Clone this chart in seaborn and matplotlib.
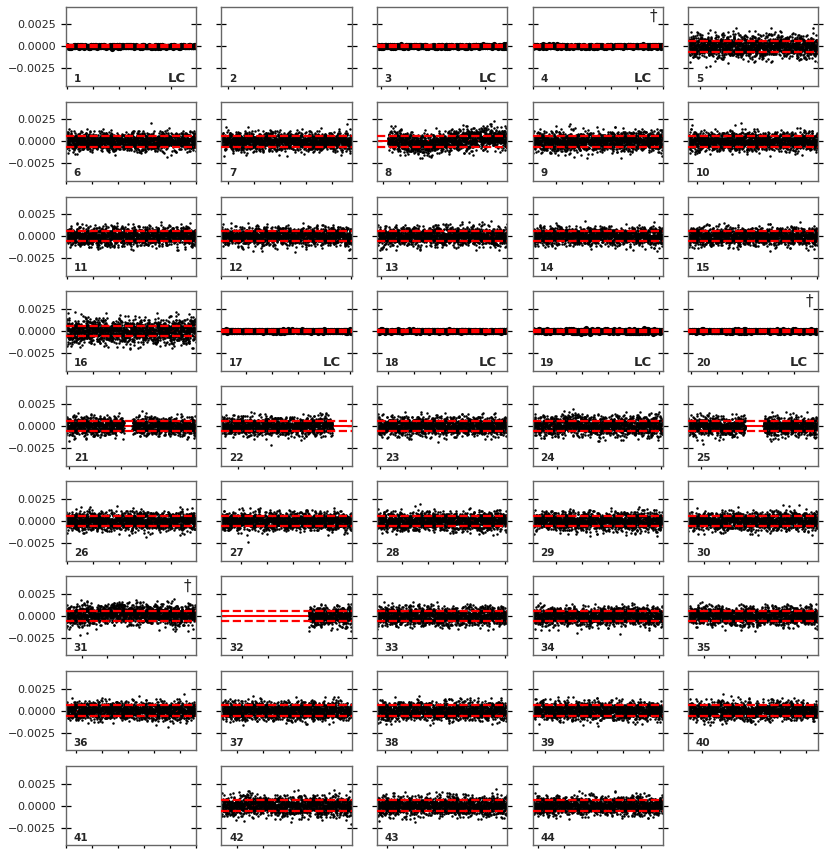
import numpy as np
import pandas as pd
import matplotlib
matplotlib.use("Agg")
import matplotlib.pyplot as plt
import seaborn as sns
from matplotlib.ticker import MultipleLocator

# panel numbering and flags
panel_ids = list(range(1, 45))
lc_panels = [1, 3, 4, 17, 18, 19, 20]
empty_panels = [2, 41]
dagger_panels = [4, 20, 31]

# days between the window start and the first 5-day tick, per panel
tick_offset = [0.25, 1.25, 0.8, 0.1, 2.25, 0.1, 1.25, 1.25, 4.5, 1.75,
               0.25, 0.0, 0.75, 4.5, 4.9, 0.25, 4.75, 2.1, 4.5, 0.5,
               0.6, 3.25, 0.5, 4.75, 2.5, 0.25, 3.75, 4.75, 4.5, 3.0,
               3.0, 4.0, 4.75, 4.5, 3.0, 2.0, 3.0, 1.5, 2.5, 2.75,
               0.1, 3.0, 2.0, 1.0]
window_days = 25.1

# residual scatter (rms) per panel
rms = [0.00008, 0.0, 0.00008, 0.00008, 0.00065, 0.00052, 0.00052, 0.00062, 0.00055, 0.00052,
       0.00052, 0.00052, 0.00052, 0.00052, 0.00052, 0.0007, 0.00008, 0.00008, 0.0001, 0.00008,
       0.00052, 0.00052, 0.00052, 0.00058, 0.00052, 0.00052, 0.00052, 0.00052, 0.00052, 0.00052,
       0.0006, 0.00052, 0.00052, 0.00052, 0.00052, 0.00052, 0.00052, 0.00052, 0.00052, 0.0005,
       0.0, 0.00055, 0.00055, 0.00052]

# parts of the window that hold data (fractions of the window)
coverage = {
    8: [(0.085, 1.0)],
    21: [(0.0, 0.445), (0.51, 1.0)],
    22: [(0.0, 0.855)],
    25: [(0.0, 0.44), (0.58, 1.0)],
    32: [(0.67, 1.0)],
}

# slow residual trends seen in a few panels (knot position, level)
p8_trend_t = [0.08, 0.25, 0.4, 0.55, 0.75, 1.0]
p8_trend_y = [0.0002, -0.0001, -0.0003, 0.0, 0.0003, 0.0003]
p24_trend_t = [0.0, 0.2, 0.32, 0.45, 1.0]
p24_trend_y = [0.0, 0.0001, 0.0003, 0.0, 0.0]
p31_trend_t = [0.0, 0.25, 0.45, 0.65, 0.85, 1.0]
p31_trend_y = [0.0, 0.0002, 0.0004, 0.0002, 0.0, 0.0003]
trends = {8: (p8_trend_t, p8_trend_y), 24: (p24_trend_t, p24_trend_y),
          31: (p31_trend_t, p31_trend_y)}

sc_band = 0.0006
lc_band = 0.0001
n_sc, n_lc = 1550, 700

# the individual residuals cannot be read off the picture; they are drawn as
# noise of the measured rms (fixed seed so the output is repeatable)
rng = np.random.default_rng(7)

sns.set_style("ticks")
plt.rcParams['font.family'] = ['DejaVu Sans']

fig, axes = plt.subplots(9, 5, figsize=(8.31, 8.56), dpi=100)
fig.subplots_adjust(left=0.0794, right=0.9844, top=0.9922, bottom=0.0125,
                    wspace=0.196, hspace=0.198)
axes = axes.ravel()
axes[-1].remove()

for k, pid in enumerate(panel_ids):
    ax = axes[k]
    t0 = 1325 + 30 * k - tick_offset[k]
    is_lc = pid in lc_panels

    if pid not in empty_panels:
        n = n_lc if is_lc else n_sc
        frac = np.linspace(0, 1, n)
        keep = np.zeros(n, dtype=bool)
        for a, b in coverage.get(pid, [(0.0, 1.0)]):
            keep |= (frac >= a) & (frac <= b)
        y = rng.normal(0, rms[k], n)
        if pid in trends:
            y += np.interp(frac, *trends[pid])
        df = pd.DataFrame({'time': t0 + frac * window_days, 'resid': y})[keep]

        band = lc_band if is_lc else sc_band
        ax.axhline(0, color='red', lw=1.5, zorder=1)
        sns.scatterplot(data=df, x='time', y='resid', ax=ax, color='black',
                        s=14 if is_lc else 3.2, linewidth=0, zorder=2, legend=False)
        for lev in (band, -band):
            ax.axhline(lev, color='red', lw=1.6, ls='--', zorder=3)

    ax.set_xlim(t0, t0 + window_days)
    ax.set_ylim(-0.0045, 0.0045)
    ax.set_xlabel('')
    ax.set_ylabel('')
    ax.xaxis.set_major_locator(MultipleLocator(5))
    ax.yaxis.set_major_locator(MultipleLocator(0.0025))
    ax.tick_params(axis='x', direction='out', length=2.5, width=0.9,
                   labelbottom=False, color='black')
    ax.tick_params(axis='y', direction='inout', length=7.5, width=0.9,
                   left=True, right=True, labelsize=8, color='black',
                   labelleft=(k % 5 == 0))
    for sp in ax.spines.values():
        sp.set_visible(True)
        sp.set_color('#666666')
        sp.set_linewidth(1.0)

    ax.text(0.06, 0.055, str(pid), transform=ax.transAxes, fontsize=7.5,
            fontweight='bold', ha='left', va='baseline')
    if is_lc:
        ax.text(0.92, 0.055, 'LC', transform=ax.transAxes, fontsize=9.5,
                fontweight='bold', ha='right', va='baseline')
    if pid in dagger_panels:
        ax.text(0.93, 0.97, '\u2020', transform=ax.transAxes, fontsize=11,
                ha='center', va='top')

fig.savefig('out.png', dpi=100)
